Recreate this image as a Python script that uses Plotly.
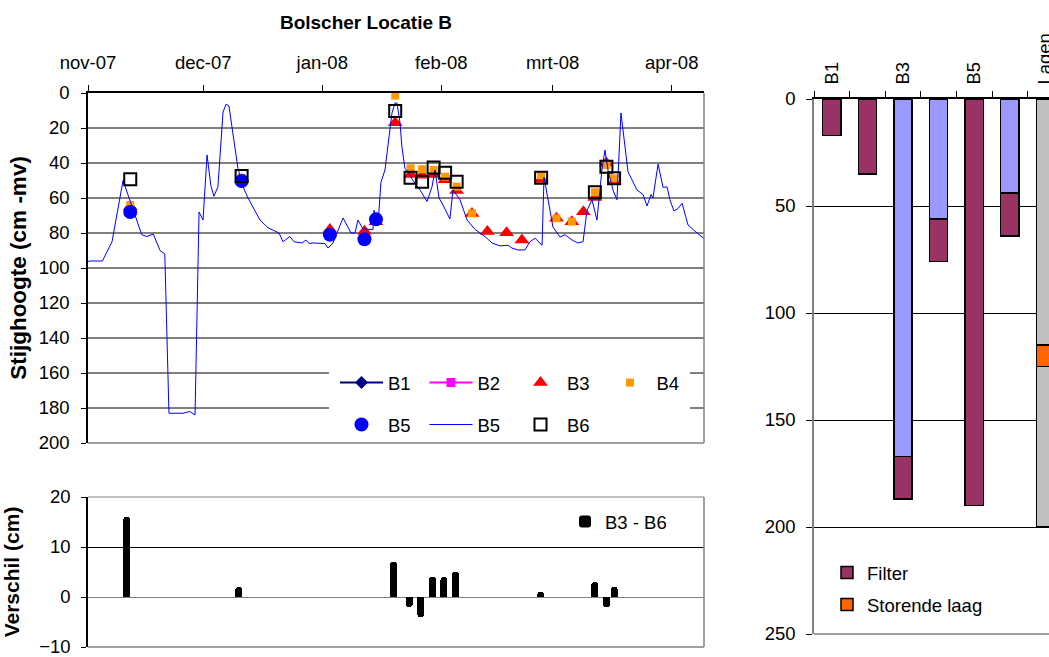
import plotly.graph_objects as go

W, H = 1049, 657
FONT = "Liberation Sans, Arial, sans-serif"


def fx(px):
    return px / W


def fy(py):
    return 1 - py / H


# ---------------- main chart data (stijghoogte, cm -mv) ----------------
month_ticks = ["2007-11-01", "2007-12-01", "2008-01-01", "2008-02-01", "2008-03-01", "2008-04-01"]
month_labels = ["nov-07", "dec-07", "jan-08", "feb-08", "mrt-08", "apr-08"]
y_ticks = [0, 20, 40, 60, 80, 100, 120, 140, 160, 180, 200]

b3_dates = ["2007-11-12", "2007-12-11", "2008-01-03", "2008-01-12", "2008-01-15", "2008-01-20",
            "2008-01-24", "2008-01-27", "2008-01-30", "2008-02-02", "2008-02-05", "2008-02-09",
            "2008-02-13", "2008-02-18", "2008-02-22", "2008-02-27", "2008-03-02", "2008-03-06",
            "2008-03-09", "2008-03-12", "2008-03-15", "2008-03-17"]
b3_vals = [65, 49.5, 78, 79, 73.5, 17, 46.5, 47, 46.5, 49.5, 55.7, 68.8,
           79.2, 79.8, 84, 49.4, 71.6, 73.5, 67.8, 59.7, 40, 50.7]

b4_dates = ["2007-11-12", "2007-12-11", "2008-01-20", "2008-01-24", "2008-01-27", "2008-01-30",
            "2008-02-02", "2008-02-05", "2008-02-09", "2008-02-27", "2008-03-02", "2008-03-06",
            "2008-03-12", "2008-03-15", "2008-03-17"]
b4_vals = [64, 48.5, 1.5, 43, 43.6, 44, 47.8, 53.5, 68.8, 47, 71.6, 73.5, 56.7, 41.1, 48.7]

b5_dates = ["2007-11-12", "2007-12-11", "2008-01-03", "2008-01-12", "2008-01-15"]
b5_vals = [68, 50.3, 81, 83.6, 72.2]

b6_dates = ["2007-11-12", "2007-12-11", "2008-01-20", "2008-01-24", "2008-01-27", "2008-01-30",
            "2008-02-02", "2008-02-05", "2008-02-27", "2008-03-12", "2008-03-15", "2008-03-17"]
b6_vals = [49.3, 47.4, 10.3, 48.4, 50.7, 42.5, 45.5, 50.7, 48.4, 56.7, 42.1, 48.7]

b5_line_dates = [
    "2007-10-30 18:00", "2007-11-01 12:00", "2007-11-04 18:00", "2007-11-07 06:00", "2007-11-10 03:00",
    "2007-11-12 06:00", "2007-11-15 00:00", "2007-11-16 09:00", "2007-11-18 00:00", "2007-11-19 18:00",
    "2007-11-21 00:00", "2007-11-22 02:00", "2007-11-25 18:00", "2007-11-27 12:00", "2007-11-28 21:00",
    "2007-11-29 22:00", "2007-11-30 23:00", "2007-12-02 00:00", "2007-12-03 00:00", "2007-12-03 19:00",
    "2007-12-04 20:00", "2007-12-06 04:00", "2007-12-06 23:00", "2007-12-07 17:00", "2007-12-10 01:00",
    "2007-12-11 09:00", "2007-12-12 16:00", "2007-12-15 19:00", "2007-12-17 21:00", "2007-12-20 18:00",
    "2007-12-21 19:00", "2007-12-23 14:00", "2007-12-24 16:00", "2007-12-26 18:00", "2007-12-27 18:00",
    "2007-12-28 13:00", "2007-12-29 14:00", "2008-01-01 17:00", "2008-01-02 12:00", "2008-01-03 19:00",
    "2008-01-06 10:00", "2008-01-08 12:00", "2008-01-09 13:00", "2008-01-10 07:00", "2008-01-11 15:00",
    "2008-01-14 05:00", "2008-01-14 12:00", "2008-01-15 12:00", "2008-01-16 07:00", "2008-01-17 08:00",
    "2008-01-18 03:00", "2008-01-19 04:00", "2008-01-19 23:00", "2008-01-20 11:00", "2008-01-21 06:00",
    "2008-01-21 18:00", "2008-01-22 13:00", "2008-01-23 08:00", "2008-01-24 15:00", "2008-01-26 11:00",
    "2008-01-28 07:00", "2008-01-29 14:00", "2008-01-30 09:00", "2008-01-31 10:00", "2008-02-01 11:00",
    "2008-02-03 06:00", "2008-02-04 01:00", "2008-02-05 21:00", "2008-02-07 17:00", "2008-02-09 19:00",
    "2008-02-12 09:00", "2008-02-14 05:00", "2008-02-16 07:00", "2008-02-18 09:00", "2008-02-19 10:00",
    "2008-02-21 00:00", "2008-02-22 19:00", "2008-02-24 02:00", "2008-02-25 10:00", "2008-02-27 06:00",
    "2008-02-27 18:00", "2008-02-29 07:00", "2008-03-01 02:00", "2008-03-02 22:00", "2008-03-04 05:00",
    "2008-03-06 01:00", "2008-03-07 14:00", "2008-03-08 22:00", "2008-03-09 23:00", "2008-03-11 06:00",
    "2008-03-12 13:00", "2008-03-13 20:00", "2008-03-14 15:00", "2008-03-15 10:00", "2008-03-16 17:00",
    "2008-03-17 18:00", "2008-03-18 19:00", "2008-03-20 15:00", "2008-03-22 23:00", "2008-03-24 13:00",
    "2008-03-25 14:00", "2008-03-26 15:00", "2008-03-27 03:00", "2008-03-28 11:00", "2008-03-29 18:00",
    "2008-03-30 19:00", "2008-03-31 13:00", "2008-04-01 14:00", "2008-04-02 16:00", "2008-04-03 17:00",
    "2008-04-05 06:00", "2008-04-07 02:00", "2008-04-08 22:00", "2008-04-10 11:00"]
b5_line_vals = [
    97, 96, 96, 85, 50,
    64, 81, 82, 80.6, 90,
    92, 183, 183, 182, 184,
    68, 72.6, 35.4, 53, 59,
    53.6, 10.9, 6.4, 7.4, 43,
    53.6, 60, 72.6, 77, 80,
    85, 82, 85, 85.7, 84,
    86, 85.7, 86, 88.6, 85.7,
    71.4, 80, 80, 72.6, 77.7,
    78, 67, 76, 51, 44,
    30.8, 11.4, 5.7, 5.7, 17,
    30.8, 43, 45, 50, 55.4,
    62, 53.6, 44, 60, 64,
    72, 55.4, 61, 72.6, 78,
    82, 85.7, 87.4, 87, 88.6,
    89.7, 89.7, 85, 83, 87,
    48, 67, 76.6, 82.3, 81,
    84, 85.7, 85, 67, 61,
    72.6, 44, 32.6, 44, 55.4,
    61, 11.4, 45, 55.4, 58,
    64.6, 58, 60, 40.6, 54,
    53.6, 61, 67.4, 66, 63,
    75.4, 79, 82, 85]

# ---------------- lower chart data (verschil B3 - B6) ----------------
diff_dates = b6_dates
diff_vals = [16, 2, 7, -2, -4, 4, 4, 5, 1, 3, -2, 2]

# ---------------- right chart data (opbouw peilbuizen) ----------------
categories = ["B1", "B2", "B3", "B4", "B5", "B6", "Lagen"]
cat_labels = ["B1", "", "B3", "", "B5", "", "Lagen"]
buis = [None, None, 167, 56, None, 44, None]
filter_len = [17, 35, 20, 20, 190, 20, None]
laag_boven = [None, None, None, None, None, None, 115]
storende_laag = [None, None, None, None, None, None, 10]
laag_onder = [None, None, None, None, None, None, 75]

TICK = dict(family=FONT, size=18.5, color="black")

fig = go.Figure()

# main chart
fig.add_trace(go.Scatter(x=[None], y=[None], name="B1", mode="lines+markers",
                         line=dict(color="#000080", width=2),
                         marker=dict(symbol="diamond", size=10, color="#000080"), legend="legend"))
fig.add_trace(go.Scatter(x=[None], y=[None], name="B2", mode="lines+markers",
                         line=dict(color="#FF00FF", width=2),
                         marker=dict(symbol="square", size=9, color="#FF00FF"), legend="legend"))
fig.add_trace(go.Scatter(x=b3_dates, y=b3_vals, name="B3", mode="markers",
                         marker=dict(symbol="triangle-up", size=13, color="#FF0000"), legend="legend"))
fig.add_trace(go.Scatter(x=b4_dates, y=b4_vals, name="B4", mode="markers", cliponaxis=False,
                         marker=dict(symbol="square", size=8, color="#FF9900"), legend="legend"))
fig.add_trace(go.Scatter(x=b5_dates, y=b5_vals, name="B5", mode="markers",
                         marker=dict(symbol="circle", size=14, color="#0000FF"), legend="legend2"))
fig.add_trace(go.Scatter(x=b5_line_dates, y=b5_line_vals, name="B5", mode="lines",
                         line=dict(color="#0000FF", width=1), legend="legend2"))
fig.add_trace(go.Scatter(x=b6_dates, y=b6_vals, name="B6", mode="markers",
                         marker=dict(symbol="square-open", size=12, color="#000000",
                                     line=dict(width=2, color="#000000")), legend="legend2"))

# lower chart
fig.add_trace(go.Bar(x=diff_dates, y=diff_vals, name="B3 - B6", xaxis="x2", yaxis="y2",
                     width=1.8 * 86400000, marker=dict(color="black", line=dict(width=0), cornerradius=3),
                     legend="legend3"))

# right chart
bar_line = dict(color="black", width=1.5)
fig.add_trace(go.Bar(x=categories, y=buis, name="Buis", xaxis="x3", yaxis="y3", width=0.51,
                     marker=dict(color="#9999FF", line=bar_line), showlegend=False))
fig.add_trace(go.Bar(x=categories, y=filter_len, name="Filter", xaxis="x3", yaxis="y3", width=0.51,
                     marker=dict(color="#993366", line=bar_line), legend="legend4", legendgroup="f"))
fig.add_trace(go.Bar(x=categories, y=laag_boven, name="Laag", xaxis="x3", yaxis="y3", width=0.51,
                     marker=dict(color="#C0C0C0", line=bar_line), showlegend=False))
fig.add_trace(go.Bar(x=categories, y=storende_laag, name="Storende laag", xaxis="x3", yaxis="y3",
                     width=0.51, marker=dict(color="#FF6600", line=bar_line), legend="legend4",
                     legendgroup="s"))
fig.add_trace(go.Bar(x=categories, y=laag_onder, name="Laag onder", xaxis="x3", yaxis="y3", width=0.51,
                     marker=dict(color="#C0C0C0", line=bar_line), showlegend=False))

GRAY = "#808080"
shapes = []
# horizontal gridlines of the main chart (drawn as shapes so the legend area can cover them)
for v in y_ticks[1:-1]:
    shapes.append(dict(type="line", xref="x domain", yref="y", x0=0, x1=1, y0=v, y1=v,
                       line=dict(color="black", width=1), layer="below"))
# white legend background inside the main chart
shapes.append(dict(type="rect", xref="x domain", yref="y domain", x0=(329 - 88) / 616, x1=(690 - 88) / 616,
                   y0=0, y1=(443 - 357) / 350, fillcolor="white", line=dict(width=0), layer="below"))
# gray plot-area borders
shapes += [
    dict(type="line", xref="x domain", yref="y domain", x0=1, x1=1, y0=0, y1=1, line=dict(color=GRAY, width=1.5)),
    dict(type="line", xref="x domain", yref="y domain", x0=0, x1=1, y0=0, y1=0, line=dict(color=GRAY, width=1.5)),
    dict(type="line", xref="x2 domain", yref="y2 domain", x0=1, x1=1, y0=0, y1=1, line=dict(color=GRAY, width=1.5)),
    dict(type="line", xref="x2 domain", yref="y2 domain", x0=0, x1=1, y0=0, y1=0, line=dict(color=GRAY, width=1.5)),
    dict(type="line", xref="x2 domain", yref="y2 domain", x0=0, x1=1, y0=1, y1=1, line=dict(color=GRAY, width=1)),
    dict(type="line", xref="x3 domain", yref="y3 domain", x0=0, x1=1, y0=0, y1=0, line=dict(color=GRAY, width=1.5)),
]

fig.update_layout(
    width=W, height=H,
    margin=dict(l=0, r=0, t=0, b=0, autoexpand=False),
    paper_bgcolor="white", plot_bgcolor="white",
    barmode="stack",
    font=dict(family=FONT, size=18.5, color="black"),
    title=dict(text="<b>Bolscher Locatie B</b>", font=dict(family=FONT, size=19, color="black"),
               x=fx(366), xanchor="center", y=fy(22), yanchor="middle"),
    shapes=shapes,
    xaxis=dict(domain=[fx(88), fx(704)], anchor="y", side="top", type="date", automargin=False,
               range=["2007-11-01", "2008-04-09 10:00"],
               tickvals=month_ticks, ticktext=month_labels, tickfont=TICK,
               ticks="outside", ticklen=6, tickcolor="black", ticklabelstandoff=9,
               showgrid=False, showline=True, linecolor="black", linewidth=1.5, zeroline=False),
    yaxis=dict(domain=[fy(443), fy(93)], anchor="x", range=[200, 0], tickvals=y_ticks, automargin=False,
               tickfont=TICK, ticks="outside", ticklen=5, tickcolor="black", ticklabelstandoff=8,
               showgrid=False, zeroline=False,
               showline=True, linecolor="black", linewidth=1.5,
               title=dict(text="<b>Stijghoogte (cm -mv)</b>", font=dict(family=FONT, size=22.5, color="black"),
                          standoff=6)),
    xaxis2=dict(domain=[fx(88), fx(704)], anchor="y2", type="date", automargin=False,
                range=["2007-11-02", "2008-04-09 05:00"],
                showticklabels=False, ticks="", showgrid=False, showline=False, zeroline=False),
    yaxis2=dict(domain=[fy(647), fy(497)], anchor="x2", range=[-10, 20], tickvals=[-10, 0, 10, 20],
                automargin=False, ticklabeloverflow="allow",
                tickfont=TICK, ticks="outside", ticklen=5, tickcolor="black", ticklabelstandoff=7,
                showgrid=True, gridcolor="black", gridwidth=1,
                zeroline=True, zerolinecolor=GRAY, zerolinewidth=1,
                showline=True, linecolor="black", linewidth=1.5,
                title=dict(text="<b>Verschil (cm)</b>", font=dict(family=FONT, size=21, color="black"),
                           standoff=16)),
    xaxis3=dict(domain=[fx(814), 1.0], anchor="y3", type="category", side="top", automargin=False,
                range=[-0.5, -0.5 + (W - 814) / 35.6], ticklabeloverflow="allow",
                tickvals=categories, ticktext=cat_labels, tickangle=-90, tickfont=TICK,
                ticks="outside", ticklen=6, tickcolor="black", tickson="boundaries", ticklabelstandoff=9,
                showgrid=False, showline=True, linecolor="black", linewidth=1.5),
    yaxis3=dict(domain=[fy(634), fy(99)], anchor="x3", range=[250, 0], tickvals=[0, 50, 100, 150, 200, 250],
                automargin=False,
                tickfont=TICK, ticks="outside", ticklen=6, tickcolor="black", ticklabelstandoff=7,
                showgrid=True, gridcolor="black", gridwidth=1, zeroline=False,
                showline=True, linecolor=GRAY, linewidth=1.5),
    legend=dict(orientation="h", x=fx(335), xanchor="left", y=fy(383), yanchor="middle",
                bgcolor="rgba(0,0,0,0)", font=TICK, itemwidth=43, entrywidth=31.5,
                traceorder="normal"),
    legend2=dict(orientation="h", x=fx(335), xanchor="left", y=fy(425), yanchor="middle",
                 bgcolor="rgba(0,0,0,0)", font=TICK, itemwidth=43, entrywidth=31.5,
                 traceorder="normal"),
    legend3=dict(orientation="v", x=fx(565), xanchor="left", y=fy(522), yanchor="middle",
                 bgcolor="rgba(0,0,0,0)", font=TICK),
    legend4=dict(orientation="v", x=fx(827), xanchor="left", y=fy(589), yanchor="middle",
                 bgcolor="rgba(0,0,0,0)", font=TICK, traceorder="grouped", tracegroupgap=5),
)

fig.write_html(
    "out.html",
    config={"displayModeBar": False},
    post_script=("document.body.style.margin='0px';"
                 "document.body.style.overflow='hidden';"
                 "document.documentElement.style.overflow='hidden';"),
)
